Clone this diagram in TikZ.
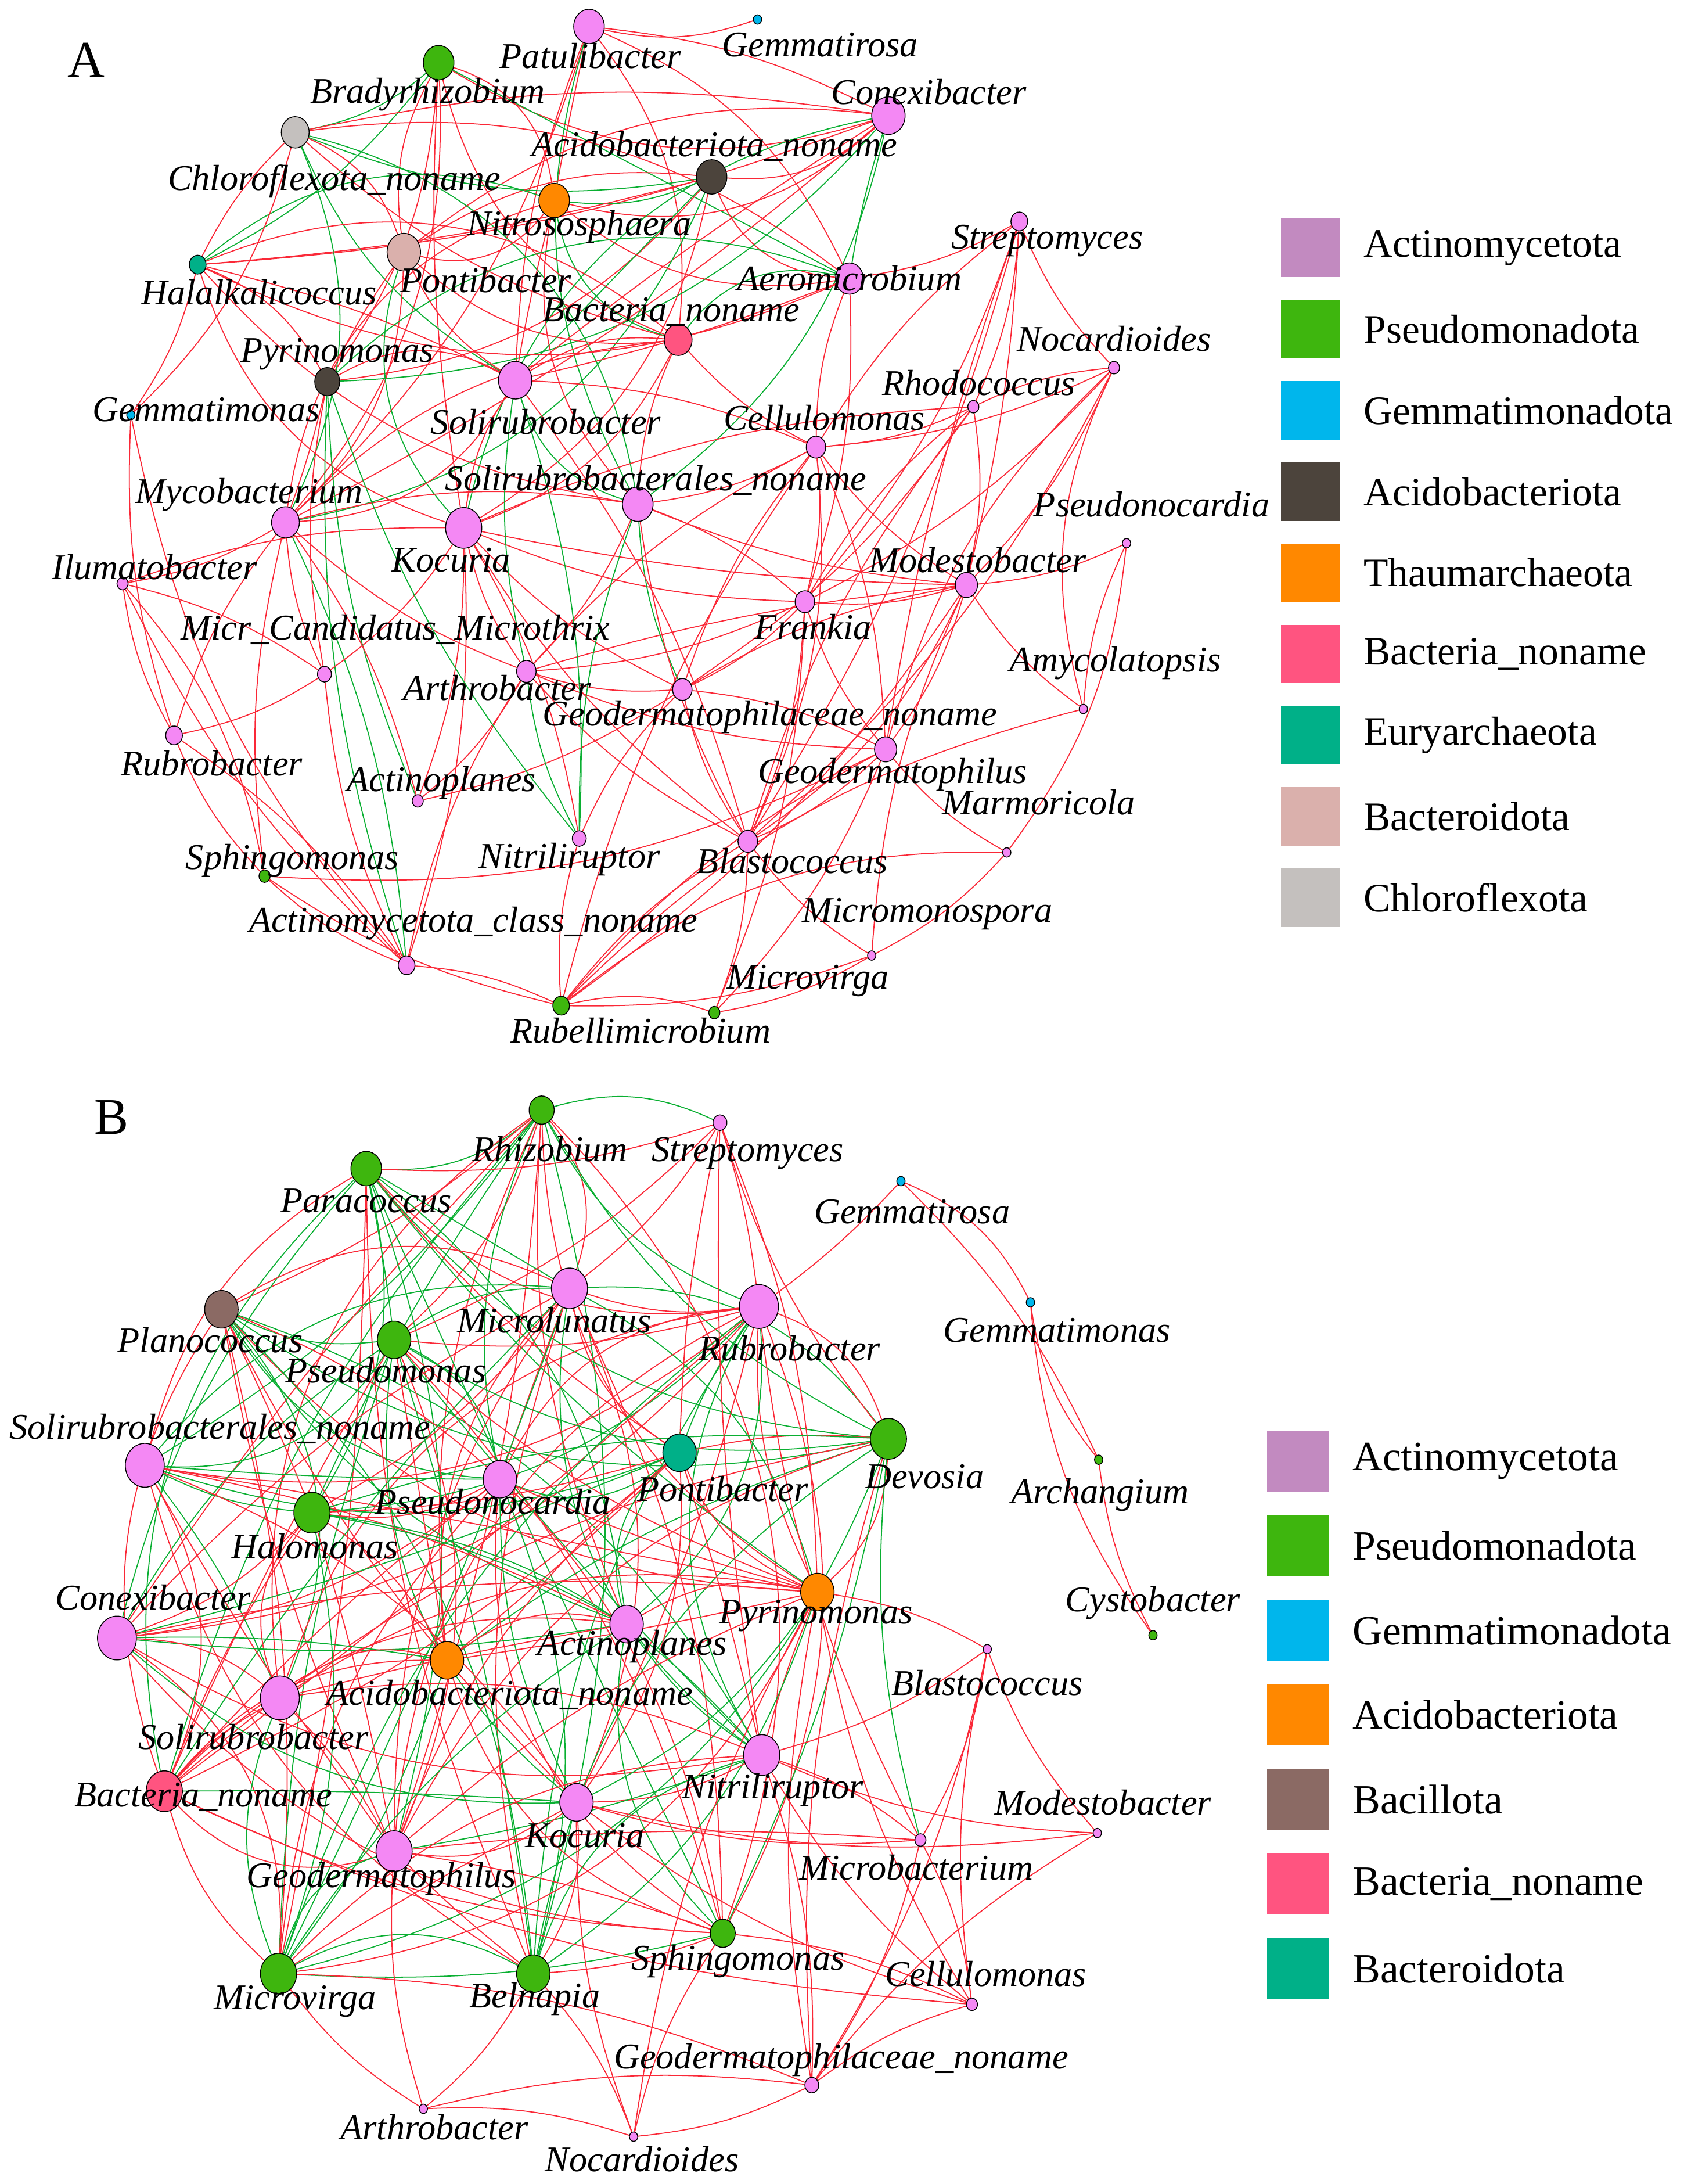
\documentclass[tikz,border=0pt]{standalone}
\usepackage{fontspec}
\setmainfont{Liberation Serif}
\usetikzlibrary{shapes.geometric,backgrounds}
\definecolor{cAct}{RGB}{244,136,244}
\definecolor{cActL}{RGB}{194,138,192}
\definecolor{cPse}{RGB}{62,182,14}
\definecolor{cGem}{RGB}{0,182,236}
\definecolor{cAci}{RGB}{76,68,60}
\definecolor{cOra}{RGB}{255,136,0}
\definecolor{cBac}{RGB}{255,84,128}
\definecolor{cEur}{RGB}{0,176,136}
\definecolor{cBcd}{RGB}{218,176,172}
\definecolor{cChl}{RGB}{196,192,190}
\definecolor{cBcl}{RGB}{139,106,100}
\definecolor{er}{RGB}{250,40,55}
\definecolor{eg}{RGB}{10,175,50}
\begin{document}
\begin{tikzpicture}[x=0.02cm,y=-0.02cm,
  nd/.style 2 args={ellipse,draw=black,line width=0.35pt,fill=#1,inner sep=0pt,minimum width={#2*0.04cm},minimum height={#2*0.045cm}},
  lb/.style={font=\fontsize{14.8}{17}\selectfont\itshape,inner sep=0pt},
  lg/.style={font=\fontsize{16.5}{19}\selectfont,inner sep=0pt,anchor=west},
  lsq/.style={draw=none,inner sep=0pt,minimum width=0.84cm,minimum height=0.84cm},
  lsqb/.style={draw=none,inner sep=0pt,minimum width=0.88cm,minimum height=0.88cm},
  ed/.style={line width=0.42pt},
  pl/.style={font=\fontsize{21}{24}\selectfont,inner sep=0pt}]
\useasboundingbox (0,0) rectangle (1209,1568);

% ================= Panel A =================
\node[pl] (panA) at (62,43) {A};
\node[nd={cAct}{11}] (patu) at (423,19) {};
\node[nd={cGem}{3}] (gemr) at (544,14) {};
\node[nd={cPse}{11}] (brad) at (315,45) {};
\node[nd={cAct}{12}] (conx) at (638,83) {};
\node[nd={cChl}{10}] (chlo) at (212,95) {};
\node[nd={cAci}{11}] (acid) at (511,127) {};
\node[nd={cOra}{11}] (nitr) at (398,144) {};
\node[nd={cEur}{6}] (hala) at (142,190) {};
\node[nd={cBcd}{12}] (pont) at (290,181) {};
\node[nd={cAct}{10}] (aero) at (610,200) {};
\node[nd={cAct}{6}] (strp) at (732,159) {};
\node[nd={cBac}{10}] (bact) at (487,244) {};
\node[nd={cAci}{9}] (pyri) at (235,274) {};
\node[nd={cAct}{12}] (soli) at (370,273) {};
\node[nd={cGem}{3}] (gemn) at (94,298) {};
\node[nd={cAct}{4}] (noca) at (800,264) {};
\node[nd={cAct}{4}] (rhod) at (699,292) {};
\node[nd={cAct}{7}] (cell) at (586,321) {};
\node[nd={cAct}{11}] (solb) at (458,362) {};
\node[nd={cAct}{10}] (myco) at (205,375) {};
\node[nd={cAct}{13}] (kocu) at (333,379) {};
\node[nd={cAct}{3}] (psnc) at (809,390) {};
\node[nd={cAct}{4}] (ilum) at (88,419) {};
\node[nd={cAct}{8}] (mode) at (694,420) {};
\node[nd={cAct}{7}] (fran) at (578,432) {};
\node[nd={cAct}{5}] (micr) at (233,484) {};
\node[nd={cAct}{7}] (arth) at (378,482) {};
\node[nd={cAct}{7}] (geoc) at (490,495) {};
\node[nd={cAct}{3}] (amyc) at (778,509) {};
\node[nd={cAct}{6}] (rubr) at (125,528) {};
\node[nd={cAct}{8}] (geod) at (636,538) {};
\node[nd={cAct}{4}] (actp) at (300,575) {};
\node[nd={cAct}{3}] (marm) at (723,612) {};
\node[nd={cPse}{4}] (sphi) at (190,629) {};
\node[nd={cAct}{5}] (ntrl) at (416,602) {};
\node[nd={cAct}{7}] (blas) at (537,604) {};
\node[nd={cAct}{6}] (acln) at (292,693) {};
\node[nd={cAct}{3}] (micm) at (626,686) {};
\node[nd={cPse}{4}] (mcvg) at (513,727) {};
\node[nd={cPse}{6}] (rubl) at (403,722) {};

\node[lb] (Lpatu) at (424,40) {Patulibacter};
\node[lb] (Lgemr) at (589,32) {Gemmatirosa};
\node[lb] (Lbrad) at (307,68) {Bradyrhizobium};
\node[lb] (Lconx) at (667,66) {Conexibacter};
\node[lb] (Lchlo) at (240,130) {Chloroflexota\_noname};
\node[lb] (Lacid) at (513,105) {Acidobacteriota\_noname};
\node[lb] (Lnitr) at (416,163) {Nitrososphaera};
\node[lb] (Lhala) at (186,210) {Halalkalicoccus};
\node[lb] (Lpont) at (349,201) {Pontibacter};
\node[lb] (Laero) at (610,200) {Aeromicrobium};
\node[lb] (Lstrp) at (752,173) {Streptomyces};
\node[lb] (Lbact) at (482,224) {Bacteria\_noname};
\node[lb] (Lpyri) at (242,254) {Pyrinomonas};
\node[lb] (Lsoli) at (392,303) {Solirubrobacter};
\node[lb] (Lgemn) at (148,294) {Gemmatimonas};
\node[lb] (Lnoca) at (800,243) {Nocardioides};
\node[lb] (Lrhod) at (703,275) {Rhodococcus};
\node[lb] (Lcell) at (592,300) {Cellulomonas};
\node[lb] (Lsolb) at (471,345) {Solirubrobacterales\_noname};
\node[lb] (Lmyco) at (179,355) {Mycobacterium};
\node[lb] (Lkocu) at (324,402) {Kocuria};
\node[lb] (Lpsnc) at (827,362) {Pseudonocardia};
\node[lb] (Lilum) at (111,407) {Ilumatobacter};
\node[lb] (Lmode) at (702,402) {Modestobacter};
\node[lb] (Lfran) at (584,450) {Frankia};
\node[lb] (Lmicr) at (284,452) {Micr\_Candidatus\_Microthrix};
\node[lb] (Larth) at (357,494) {Arthrobacter};
\node[lb] (Lgeoc) at (553,515) {Geodermatophilaceae\_noname};
\node[lb] (Lamyc) at (801,476) {Amycolatopsis};
\node[lb] (Lrubr) at (152,548) {Rubrobacter};
\node[lb] (Lgeod) at (641,556) {Geodermatophilus};
\node[lb] (Lactp) at (317,562) {Actinoplanes};
\node[lb] (Lmarm) at (746,576) {Marmoricola};
\node[lb] (Lsphi) at (210,618) {Sphingomonas};
\node[lb] (Lntrl) at (409,617) {Nitriliruptor};
\node[lb] (Lblas) at (569,618) {Blastococcus};
\node[lb] (Lacln) at (340,663) {Actinomycetota\_class\_noname};
\node[lb] (Lmicm) at (666,656) {Micromonospora};
\node[lb] (Lmcvg) at (580,704) {Microvirga};
\node[lb] (Lrubl) at (460,740) {Rubellimicrobium};

% legend A
\foreach \c/\t [count=\k] in {cActL/Actinomycetota,cPse/Pseudomonadota,cGem/Gemmatimonadota,cAci/Acidobacteriota,cOra/Thaumarchaeota,cBac/Bacteria\_noname,cEur/Euryarchaeota,cBcd/Bacteroidota,cChl/Chloroflexota}{
  \pgfmathsetmacro\yy{178+58.3*(\k-1)}
  \node[lsq,fill=\c] (lgA\k) at (941,\yy) {};
  \node[lg] (ltA\k) at (979,\yy) {\t};
}

% ================= Panel B =================
\node[pl] (panB) at (80,802) {B};
\node[nd={cPse}{9}] (rhiz) at (389,797) {};
\node[nd={cAct}{5}] (strb) at (517,806) {};
\node[nd={cPse}{11}] (para) at (263,839) {};
\node[nd={cGem}{3}] (gmrb) at (647,848) {};
\node[nd={cGem}{3}] (gmnb) at (740,935) {};
\node[nd={cBcl}{12}] (plan) at (159,940) {};
\node[nd={cAct}{13}] (mclu) at (409,925) {};
\node[nd={cAct}{14}] (rubb) at (545,938) {};
\node[nd={cPse}{12}] (pseu) at (283,962) {};
\node[nd={cAct}{14}] (srnb) at (104,1052) {};
\node[nd={cPse}{13}] (devo) at (638,1033) {};
\node[nd={cPse}{3}] (arch) at (789,1048) {};
\node[nd={cAct}{12}] (psnb) at (359,1062) {};
\node[nd={cEur}{12}] (ponb) at (488,1043) {};
\node[nd={cPse}{13}] (halo) at (224,1086) {};
\node[nd={cAct}{14}] (conb) at (84,1176) {};
\node[nd={cOra}{12}] (pyrb) at (587,1143) {};
\node[nd={cAct}{12}] (actb) at (450,1166) {};
\node[nd={cPse}{3}] (cyst) at (828,1174) {};
\node[nd={cOra}{12}] (acnb) at (321,1192) {};
\node[nd={cAct}{3}] (blab) at (709,1184) {};
\node[nd={cAct}{14}] (solr) at (201,1219) {};
\node[nd={cAct}{13}] (nitb) at (547,1260) {};
\node[nd={cBac}{13}] (banb) at (118,1286) {};
\node[nd={cAct}{3}] (modb) at (788,1316) {};
\node[nd={cAct}{12}] (kocb) at (414,1294) {};
\node[nd={cAct}{4}] (micb) at (661,1321) {};
\node[nd={cAct}{13}] (geob) at (283,1329) {};
\node[nd={cPse}{9}] (sphb) at (519,1388) {};
\node[nd={cAct}{4}] (celb) at (698,1439) {};
\node[nd={cPse}{13}] (mvgb) at (200,1417) {};
\node[nd={cPse}{12}] (beln) at (383,1417) {};
\node[nd={cAct}{5}] (gcnb) at (583,1497) {};
\node[nd={cAct}{3}] (artb) at (304,1514) {};
\node[nd={cAct}{3}] (nocb) at (455,1534) {};

\node[lb] (Lrhiz) at (395,825) {Rhizobium};
\node[lb] (Lstrb) at (537,828) {Streptomyces};
\node[lb] (Lpara) at (263,862) {Paracoccus};
\node[lb] (Lgmrb) at (655,870) {Gemmatirosa};
\node[lb] (Lgmnb) at (759,955) {Gemmatimonas};
\node[lb] (Lplan) at (151,962) {Planococcus};
\node[lb] (Lmclu) at (398,948) {Microlunatus};
\node[lb] (Lrubb) at (567,968) {Rubrobacter};
\node[lb] (Lpseu) at (277,984) {Pseudomonas};
\node[lb] (Lsrnb) at (158,1026) {Solirubrobacterales\_noname};
\node[lb] (Ldevo) at (664,1060) {Devosia};
\node[lb] (Larch) at (790,1073) {Archangium};
\node[lb] (Lpsnb) at (354,1078) {Pseudonocardia};
\node[lb] (Lponb) at (519,1069) {Pontibacter};
\node[lb] (Lhalo) at (226,1110) {Halomonas};
\node[lb] (Lconb) at (110,1147) {Conexibacter};
\node[lb] (Lpyrb) at (586,1160) {Pyrinomonas};
\node[lb] (Lactb) at (454,1182) {Actinoplanes};
\node[lb] (Lcyst) at (828,1151) {Cystobacter};
\node[lb] (Lacnb) at (366,1217) {Acidobacteriota\_noname};
\node[lb] (Lblab) at (709,1208) {Blastococcus};
\node[lb] (Lsolr) at (182,1247) {Solirubrobacter};
\node[lb] (Lnitb) at (555,1285) {Nitriliruptor};
\node[lb] (Lbanb) at (146,1290) {Bacteria\_noname};
\node[lb] (Lmodb) at (792,1294) {Modestobacter};
\node[lb] (Lkocb) at (420,1318) {Kocuria};
\node[lb] (Lmicb) at (658,1341) {Microbacterium};
\node[lb] (Lgeob) at (274,1349) {Geodermatophilus};
\node[lb] (Lsphb) at (530,1408) {Sphingomonas};
\node[lb] (Lcelb) at (708,1417) {Cellulomonas};
\node[lb] (Lmvgb) at (212,1437) {Microvirga};
\node[lb] (Lbeln) at (384,1435) {Belnapia};
\node[lb] (Lgcnb) at (604,1479) {Geodermatophilaceae\_noname};
\node[lb] (Lartb) at (312,1527) {Arthrobacter};
\node[lb] (Lnocb) at (461,1550) {Nocardioides};

% legend B
\foreach \c/\t [count=\k] in {cActL/Actinomycetota,cPse/Pseudomonadota,cGem/Gemmatimonadota,cOra/Acidobacteriota,cBcl/Bacillota,cBac/Bacteria\_noname,cEur/Bacteroidota}{
  \pgfmathsetmacro\yy{1049+60.7*(\k-1)}
  \node[lsqb,fill=\c] (lgB\k) at (932,\yy) {};
  \node[lg,font=\fontsize{17}{20}\selectfont] (ltB\k) at (971,\yy) {\t};
}

% ================= Edges =================
\begin{pgfonlayer}{background}
\pgfmathsetseed{4242}
\def\listA{patu,brad,conx,chlo,acid,nitr,hala,pont,aero,bact,pyri,soli,myco,kocu,solb}
\foreach \a [count=\i] in \listA{
  \foreach \b [count=\j] in \listA{
    \ifnum\j>\i\relax
      \pgfmathrandominteger{\rnd}{0}{99}
      \ifnum\rnd<68\relax
        \pgfmathrandominteger{\gnd}{0}{99}
        \pgfmathrandominteger{\bnd}{-34}{34}
        \ifnum\gnd<30\relax\def\ec{eg}\else\def\ec{er}\fi
        \draw[ed,color=\ec] (\a) to[bend left=\bnd] (\b);
      \fi
    \fi
  }
}
\foreach \a/\b/\c/\d in {patu/gemr/er/-15,
 strp/rhod/er/10,strp/noca/er/-10,strp/mode/er/5,strp/fran/er/10,strp/geod/er/-5,strp/blas/er/8,strp/cell/er/-10,strp/aero/er/10,
 noca/mode/er/10,noca/geod/er/-15,noca/blas/er/10,noca/amyc/er/-20,noca/cell/er/10,noca/rhod/er/-10,noca/fran/er/10,
 rhod/cell/er/10,rhod/fran/er/-10,rhod/mode/er/10,rhod/geoc/er/10,rhod/blas/er/-10,
 cell/fran/er/10,cell/mode/er/-10,cell/blas/er/15,cell/geoc/er/-10,cell/solb/er/10,cell/geod/er/10,cell/arth/er/-10,cell/aero/er/10,
 psnc/mode/er/10,psnc/amyc/er/-10,psnc/marm/er/15,
 mode/fran/er/10,mode/geoc/er/-10,mode/geod/er/10,mode/blas/er/15,mode/arth/er/-5,mode/kocu/er/5,mode/micm/er/-10,mode/rubl/er/10,
 fran/geoc/er/10,fran/geod/er/-10,fran/blas/er/10,fran/arth/er/10,fran/solb/er/-10,fran/kocu/er/10,fran/mcvg/er/10,
 geoc/geod/er/10,geoc/blas/er/-10,geoc/arth/er/10,geoc/ntrl/er/-10,geoc/kocu/er/10,geoc/solb/eg/10,geoc/actp/er/10,
 geod/blas/er/10,geod/rubl/er/-10,geod/mcvg/er/10,geod/arth/er/10,geod/marm/er/-10,geod/sphi/er/15,
 amyc/mode/er/10,amyc/rubl/er/-15,marm/rubl/er/-20,marm/micm/er/10,
 blas/rubl/er/-10,blas/mcvg/er/10,blas/micm/er/-10,blas/arth/er/10,blas/solb/er/10,blas/soli/er/-10,blas/kocu/er/10,
 rubl/mcvg/er/15,rubl/acln/er/-10,rubl/sphi/er/10,rubl/micm/er/-10,rubl/cell/er/10,rubl/ntrl/er/10,mcvg/micm/er/-10,
 acln/sphi/er/10,acln/rubr/er/-10,acln/ilum/er/10,acln/myco/eg/-10,acln/micr/er/10,acln/pyri/eg/10,acln/arth/er/10,acln/kocu/er/-10,acln/gemn/er/15,
 sphi/rubr/er/10,sphi/ilum/er/-15,sphi/myco/er/10,
 rubr/ilum/er/10,rubr/micr/er/-10,rubr/myco/er/10,rubr/gemn/er/10,
 ilum/myco/er/-10,ilum/micr/er/10,ilum/kocu/er/10,gemn/hala/er/-10,gemn/chlo/er/-15,
 micr/myco/er/10,micr/kocu/er/-10,micr/pyri/er/10,
 arth/kocu/er/10,arth/solb/er/-10,arth/myco/er/10,arth/actp/er/10,arth/ntrl/eg/-10,arth/soli/eg/10,
 actp/kocu/er/-10,actp/pyri/eg/10,actp/myco/er/-10,
 ntrl/solb/eg/10,ntrl/kocu/er/-10,ntrl/soli/eg/-10,ntrl/pyri/eg/10,
 kocu/rhod/er/10,solb/mode/er/-8,soli/cell/er/10,bact/cell/er/-10,aero/fran/er/10}{
  \draw[ed,color=\c] (\a) to[bend left=\d] (\b);
}

\def\listB{rhiz/1,para/1,plan/0,mclu/0,rubb/0,pseu/1,srnb/0,devo/1,psnb/0,ponb/1,halo/1,conb/0,pyrb/0,actb/0,acnb/0,solr/0,nitb/0,banb/0,kocb/0,geob/0,sphb/1,mvgb/1,beln/1}
\foreach \a/\ga [count=\i] in \listB{
  \foreach \b/\gb [count=\j] in \listB{
    \ifnum\j>\i\relax
      \pgfmathrandominteger{\rnd}{0}{99}
      \ifnum\rnd<70\relax
        \pgfmathrandominteger{\gnd}{0}{99}
        \pgfmathrandominteger{\bnd}{-32}{32}
        \pgfmathtruncatemacro\gth{25+22*(\ga+\gb)}
        \ifnum\gnd<\gth\relax\def\ec{eg}\else\def\ec{er}\fi
        \draw[ed,color=\ec] (\a) to[bend left=\bnd] (\b);
      \fi
    \fi
  }
}
\foreach \a/\b/\c/\d in {gmrb/gmnb/er/20,gmrb/arch/er/10,gmrb/rubb/er/5,gmnb/arch/er/-15,gmnb/cyst/er/-15,arch/cyst/er/-10,
 strb/rhiz/eg/-20,strb/mclu/er/10,strb/rubb/er/5,strb/ponb/er/-5,strb/devo/er/-10,strb/pyrb/er/10,strb/nitb/er/-5,strb/pseu/er/10,strb/para/er/10,
 blab/micb/er/10,blab/modb/er/-10,blab/celb/er/-10,blab/gcnb/er/10,blab/nitb/er/10,blab/pyrb/er/-10,
 modb/nitb/er/10,modb/gcnb/er/-10,modb/kocb/er/10,
 micb/devo/eg/10,micb/nitb/er/-10,micb/kocb/er/10,micb/celb/er/10,micb/geob/er/-5,micb/gcnb/er/10,micb/rubb/er/10,
 celb/nitb/er/10,celb/sphb/er/-10,celb/kocb/er/10,celb/gcnb/er/-10,celb/pyrb/er/10,celb/banb/er/10,
 gcnb/artb/er/-10,gcnb/nocb/er/10,gcnb/nitb/er/-10,gcnb/mvgb/er/-10,gcnb/pyrb/er/10,gcnb/devo/er/10,
 artb/mvgb/er/10,artb/beln/er/-10,artb/geob/er/10,artb/nocb/er/10,
 nocb/beln/er/-10,nocb/sphb/er/10,nocb/kocb/er/10,nocb/pyrb/er/10}{
  \draw[ed,color=\c] (\a) to[bend left=\d] (\b);
}
\end{pgfonlayer}
\end{tikzpicture}
\end{document}
